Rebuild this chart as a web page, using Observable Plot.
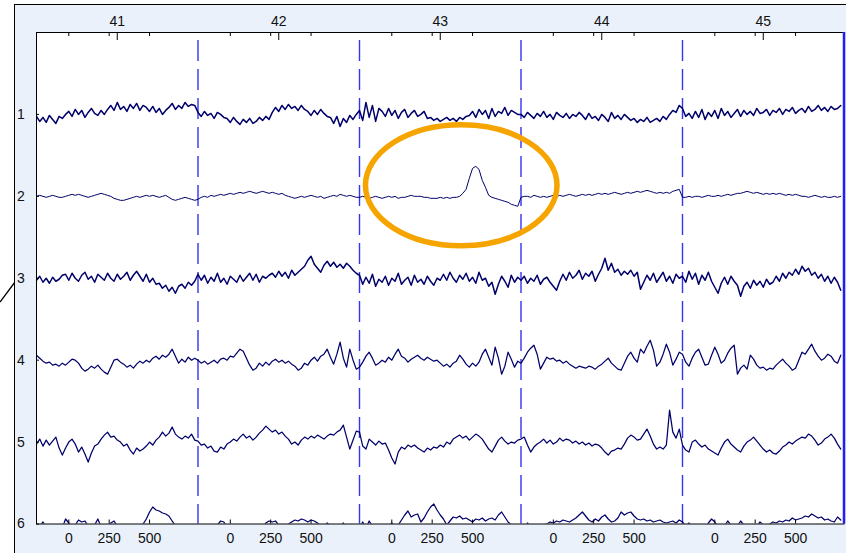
<!DOCTYPE html>
<html><head><meta charset="utf-8">
<script src="https://cdn.jsdelivr.net/npm/d3@7"></script>
<script src="https://cdn.jsdelivr.net/npm/@observablehq/plot@0.6"></script>
<style>
html,body{margin:0;padding:0;background:#fff;width:846px;height:553px;overflow:hidden;}
#panel{position:absolute;left:14px;top:4px;width:831px;height:548px;background:#EAF1FB;border-left:1px solid #000;border-top:1px solid #000;}
#pointer{position:absolute;left:0;top:0;}
#panel svg{display:block;}
</style></head><body>
<svg id="pointer" width="16" height="553"><line x1="0" y1="302" x2="15" y2="282" stroke="#000" stroke-width="1.3"/></svg>
<div id="panel"></div>
<script>
// ---- data ----
const epochs = ["41", "42", "43", "44", "45"];     // epoch numbers (top axis)
const msTicks = [0, 250, 500];                       // latency tick labels (bottom axis)
const channels = [1, 2, 3, 4, 5, 6];                 // channel labels (left axis)
const epochStartMs = -200;                           // each epoch: -200 .. 800 ms
const sampleStepMs = 20;                             // 50 samples per epoch

// amplitude per channel (µV, positive = up), 5 epochs x 50 samples
const ch1 = [
  -2,-7,-3,-8,-1,-5,-9,-2,-4,0, 3,-2,5,0,4,-3,2,6,1,-1,4,0,5, 9,4,12,5,8,3,10,6,11,4,9,7,3,8, 2,6,0,4, 7,11,5,9,6,12,8,10,9,
  2,-2,3,-1,1,-4,2,0,-3, -4,-8,-3,-7,-10,-5,-8,-4,-9, -7,-3,-6,-2,-5, 2,7,3,9,5,10,6,8,4,9,5, 3,-1,4,0,5,1,-2, -3,-9,-2,-12,-4,-8, -1,-5,0,
  4,-6,12,-3,9,-7,6, 3,-2,6,-1,4,-4,2,5,-3,1,4,-2,0,3,-4, -3,-6,-4,-7,-5,-3,-6,-4,-7,-3,-5,-2, -1,3,-3,5,0,4,-4,6,-2,3,1,7,-1,4,2,0,
  0,-3,2,-1,-4,1,-2,3,-3,0,-5,2,-1,-3,1,-4,0,-2,2, -1,-5,1,-4,-2,-6,0,-3,-7,2,-4,-1,-5,0,-3, -6,-4,-8,-5,-7,-3,-8,-6,-4,-7,-2,-5, 0,4,2,9,
  6,-2,1,-4,3,-3,5,-5,2,-2,4,-4,6,-1,3,-3,1,5,-2,4,0,3,-1,6,1,2,5,-1,4,2,6,0,5,3,7,1,4,6,2,8,3,5,9,4,7,3,8,5,6,9
];
const ch2 = [
  0,1,0,-1,0,1,0,-1,-1,0,1, 2,1,2,1,0,-1,0, 1,2,3,2,1,0,-2,-3, -4,-4,-3,-2,-1,0,-1, 0,1,0,1,0,-1,0,1, -1,-3,-4,-3,-2,-1,-2,-3,-4,
  -3,-1,0,-1,1,0,1,2,1, 2,3,2,3,4,3,4,5,4,3,4,5,4,3, 4,3,2,3,1,0,-1, -2,-1,0,-1,0,1,0,-1,0,-2,-1, 0,1,0,2,1,0,1,0,-1,
  -1,0,-1,-2,-1,0,-1,-2,-1,0,-1,0,-2,-1,-1,0,1,0,0,0,-1,-1,-2,-2,-2,-1,-2,-1,-2,-1,-1, 0,3,7,18,28,30,27,16,9,1,-1,-2,-3,-4,-5,-6,-8,-9,-10,
  -1,0,0,-1,1,0,-1,0,-1,0,1,0,1, 0,1,2,1,0,1,2,1,2,1,2,3,2, 3,2,3,4,3,2,3,4,3,4,5,4,5,6,5, 4,3,4,3,4,3,5,6,7,
  -1,-1,0,-1,0,0,-1,0,1,0,0,1,0,1,2,1,2,3, 3,4,5,4,3,4,3,2, 3,2,3,2,3,2,1,2,1,2,1,0, 0,-1,0,1,0,-1,0,-1,-1,0,-1,0
];
const ch3 = [
  -2,2,-4,0,-5,1,-3,-1,3, 4,-2,5,0,-3,3,6,-1,2,-4,4,1,-2,5,0,-3,4,-1,2,6,-2,3,7, 2,-3,4,-4,0,-6, -5,-10,-7,-13,-9,-15,-8, -6,-10,-4,-7,-3,
  4,-2,3,-5,1,-3,5,-4,0,-6,2,-1,-4, 3,-3,1,5,-2,4,-4,2,0,3, 5,1,7,2,6,0,8,3,6,9,12, 18,22,14,10, 6,13,17,12, 16,11,14,10,15,12,8,5,
  3,-6,1,-5,4,-8,-1,-4,2,-7,0,-3,5,-6,-2,1,-7,3,-4,-1,-6,2,-3,-7,0,-2, 4,-2,6,0,-4,3,-1,5,-3,1,-5,6,-2,0,-8,-4,-16,-6,2,-3,-9,3,-4,1,
  -2,2,-5,0,-3,3,-6,-1,1,-4,-8,-12, -3,4,-2,6,0,3,8,-1,5,2,7,-3,4, 10,20,8,15,6, 9,3,7,4,8,2,6, -11,-4, 3,-2,5,-4,1,6,-3,2,-5,4,0,
  2,-4,7,-1,5,-6,3,-2,6,-3,-9, -15,-5,1,-6,2,-3,-7, -18,-8,-4,-10,-2,-7,-3,-9,-1,-6,-4, 2,-3,5,0,6,3,9,4,12,7,10,3, 6,0,4,-3,2,-5,1,-4,-12
];
const ch4 = [
  5,2,-1,-3,-2,-5,-4,-6,-3,-5,-2,1,0,-3,-8,-11,-9,-6,-8,-5,-9,-12,-14,-7,0,1,-2,-4,-7,-5,-8,-4,-1,-3,0,-2,2,4,1,5,3,6,11,4,-3,1,-2,3,0,2,
  0,-3,-1,-4,-2,0,-3,1,2,0,4,3,7,11,9,2,-5,-10,-8,-3,-6,-2,-5,-1,1,-2,0,-3,-1,-4,-6,-10,-8,-3,-5,0,3,-1,4,6,11,3,-4,6,18,2,-7,11,0,-9,
  -7,-2,4,8,2,-5,-3,0,-2,3,0,6,11,4,2,-2,1,3,5,2,0,3,1,-1,0,-3,-6,-4,-7,-3,-1,5,1,-4,-7,-3,-6,-2,6,11,3,-5,13,2,-14,-6,8,1,-7,-1,
  -3,2,8,12,15,6,-9,-3,3,1,2,-1,0,-3,-1,-4,-6,-8,-6,-7,-8,-6,-7,-9,-6,-4,-1,2,-3,-6,-9,-10,-3,4,8,2,-2,11,7,14,20,10,-6,-2,6,16,8,-5,1,8,
  6,-2,-6,2,8,11,3,-5,-4,5,13,6,-3,0,7,12,15,-14,-8,-5,-9,5,1,-5,-8,-7,-10,-8,-9,-5,-2,1,-3,-6,-10,-8,0,8,6,11,16,9,4,0,2,6,4,-1,-3,5
];
const ch5 = [
  -2,3,-4,2,-3,1,5,-6,-13,-6,0,3,-2,-10,-5,-12,-20,-11,-4,-2,3,7,10,5,6,2,0,-4,-2,-8,-12,-6,-9,-7,-4,0,-3,2,5,10,6,9,15,8,5,3,6,4,8,2,
  1,-3,-2,-6,-4,-9,-10,-5,-7,-2,0,3,1,5,8,4,6,2,5,9,12,16,13,10,12,8,10,6,3,-2,0,-3,2,5,3,6,4,7,5,3,6,8,7,10,12,17,5,-7,2,11,
  10,-4,-7,3,0,-3,1,-2,-1,-8,-16,-22,-10,-5,-7,-3,-5,-3,-6,-8,-10,-6,-8,-5,-6,-3,-5,0,-2,3,5,7,4,6,2,5,8,6,3,-2,-7,-10,-4,2,5,1,-2,0,-1,2,
  3,5,-3,-10,-5,-2,0,3,-1,2,-2,0,4,1,3,2,-1,1,-2,0,-3,-1,-4,-2,-3,-6,-10,-13,-9,-8,-6,-7,-2,4,7,5,2,3,8,13,6,-2,-7,-5,-7,-3,32,10,4,13,
  -3,-8,-10,0,2,-2,-5,-3,-7,-9,-11,-13,-6,0,3,-2,-5,-8,-10,-4,0,2,5,1,-3,-7,-10,-8,-11,-12,-9,-5,-3,0,-2,1,3,5,4,8,6,2,-3,-1,3,5,8,4,-2,-7
];
const ch6 = [
  -4,-2,2,-3,-6,-3,-5,-2,-4,5,1,-3,-1,4,2,3,-2,-4,-1,5,-3,-6,-2,1,3,-2,-5,-3,-6,-4,-2,-5,-3,0,5,12,17,14,13,11,10,8,3,-2,-5,-6,-4,-7,-5,-3,
  -5,-3,-6,-4,-2,-5,-1,3,2,-3,-5,-6,-4,-2,-5,-3,-6,-4,-2,-1,-3,1,3,2,3,-1,-4,-2,0,2,4,3,5,4,2,4,3,1,-2,-3,1,-2,-4,-5,-3,1,-4,-6,-5,-3,
  -3,2,-4,3,-2,-5,-3,-6,-4,-2,1,-3,-1,4,9,13,7,9,10,2,6,12,17,20,14,9,5,-1,3,7,6,8,5,6,4,2,5,4,6,3,5,6,4,9,12,7,2,-1,-3,-5,
  -2,-4,1,-3,-5,-2,-4,-1,0,2,1,3,2,4,3,2,4,6,9,12,8,4,2,5,3,7,9,5,2,3,6,12,9,11,12,8,5,4,5,3,4,2,3,4,2,1,2,3,1,4,
  2,-2,1,-4,-3,-5,-2,-4,1,5,2,-3,-1,-2,3,-1,-4,-2,3,-1,-5,-3,-4,-2,2,-1,-3,0,2,1,3,2,4,3,6,4,5,6,8,7,10,8,6,7,4,5,3,2,7,4
];
// highlighted artefact (epoch 43, channel 2): centre and half-sizes in data units
const highlight = {x: 2633, y: 1.871, rx: 593, ry: 0.739};

// ---- derived tables ----
const uvPerChannel = 82;
const perEpoch = 50;
const epochLen = 1000;
const traces = [ch1, ch2, ch3, ch4, ch5, ch6];
const traceWidths = [1.5, 1.0, 1.5, 1.25, 1.25, 1.25];
const rowsFor = (vals, c) => vals.map((v, k) => ({
  ch: c + 1,
  x: Math.floor(k / perEpoch) * epochLen + (k % perEpoch) * sampleStepMs,
  y: c + 1 - v / uvPerChannel
}));
const boundaries = epochs.slice(1).map((e, i) => (i + 1) * epochLen);
const msTickRows = epochs.flatMap((e, i) => msTicks.map(t => ({x: i * epochLen + t - epochStartMs, label: String(t)})));
const epochCenters = epochs.map((e, i) => ({x: i * epochLen + epochLen / 2, label: e}));

const W = 831, H = 548;
const mL = 21, mR = 2.5, mT = 27, mB = 29.5;
const pxY = 6 / (H - mT - mB);           // data units per pixel, y
const pxX = 5000 / (W - mL - mR);        // data units per pixel, x
const font = {fontSize: 14, fontFamily: "'Liberation Sans', Arial, sans-serif", fill: "#111"};

const plot = Plot.plot({
  width: W, height: H,
  marginLeft: mL, marginRight: mR, marginTop: mT, marginBottom: mB,
  style: {background: "transparent", fontFamily: "'Liberation Sans', Arial, sans-serif", fontSize: "14px", color: "#111", overflow: "visible"},
  x: {domain: [0, 5000], axis: null},
  y: {domain: [0, 6], reverse: true, axis: null},
  marks: [
    Plot.frame({fill: "white", stroke: "none"}),
    Plot.ruleX(boundaries, {stroke: "#3434f2", strokeWidth: 1.4, strokeDasharray: "21,8", strokeDashoffset: 21}),
    ...traces.map((vals, c) => Plot.line(rowsFor(vals, c), {x: "x", y: "y", stroke: "#00006b", strokeWidth: traceWidths[c], clip: true})),
    Plot.ruleX(msTickRows, {x: "x", y1: 0, y2: 4 * pxY, stroke: "#000"}),
    Plot.ruleX(epochCenters, {x: "x", y1: 0, y2: 8 * pxY, stroke: "#000"}),
    Plot.ruleX(msTickRows, {x: "x", y1: 6, y2: 6 - 4 * pxY, stroke: "#000"}),
    Plot.ruleY(channels, {y: d => d, x1: 0, x2: 3 * pxX, stroke: "#000"}),
    Plot.frame({stroke: "#000", strokeWidth: 1}),
    Plot.ruleX([5000], {stroke: "#2020f0", strokeWidth: 2.5}),
    Plot.text(epochCenters, {x: "x", y: 0, dy: -10.5, text: "label", ...font}),
    Plot.text(msTickRows, {x: "x", y: 6, dy: 14.5, text: "label", ...font}),
    Plot.text(channels, {x: 0, y: d => d, dx: -15.5, text: d => String(d), ...font})
  ]
});

// annotation ellipse drawn through the plot's own scales
const sx = plot.scale("x"), sy = plot.scale("y");
const fx = sx.apply ? sx.apply : d3.scaleLinear(sx.domain, sx.range);
const fy = sy.apply ? sy.apply : d3.scaleLinear(sy.domain, sy.range);
d3.select(plot).append("ellipse")
  .attr("cx", fx(highlight.x)).attr("cy", fy(highlight.y))
  .attr("rx", Math.abs(fx(highlight.x + highlight.rx) - fx(highlight.x)))
  .attr("ry", Math.abs(fy(highlight.y + highlight.ry) - fy(highlight.y)))
  .attr("fill", "none").attr("stroke", "#F6A400").attr("stroke-width", 5.5);

document.getElementById("panel").appendChild(plot);
</script></body></html>
